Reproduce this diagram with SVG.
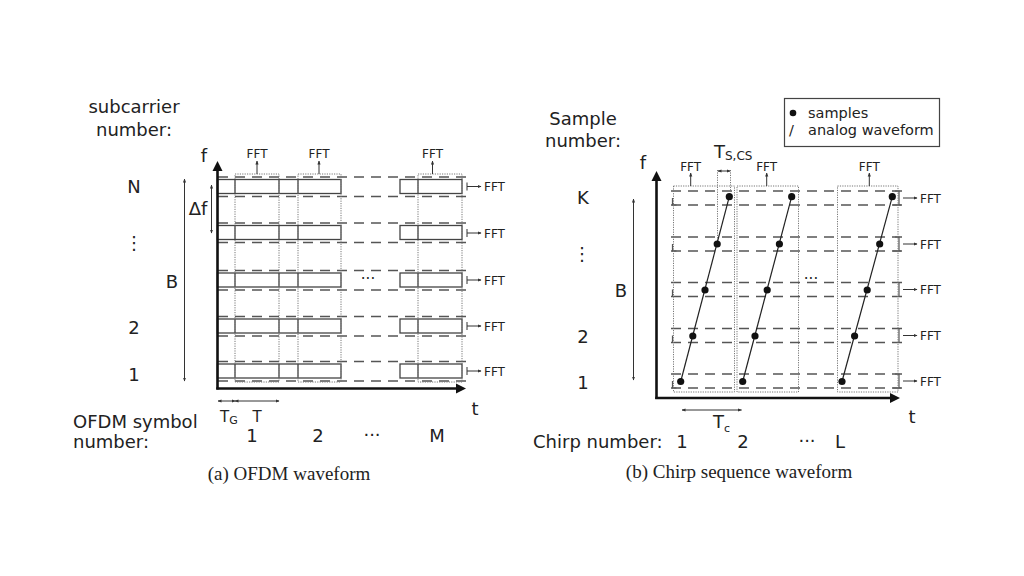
<svg xmlns="http://www.w3.org/2000/svg" width="1024" height="576" viewBox="0 0 1024 576">
<defs>
<style>
text{font-family:"DejaVu Sans",sans-serif;fill:#222}
.l{font-size:18px}
.m{font-size:15px}
.s{font-size:11px}
.fft{font-size:12px}
.leg{font-size:14.5px}
.cap{font-family:"Liberation Serif",serif;font-size:19px}
.axis{stroke:#111;stroke-width:2.6;fill:none}
.dash{stroke:#555;stroke-width:1.3;stroke-dasharray:10,7;fill:none}
.rect{stroke:#444;stroke-width:1.3;fill:none}
.dot{stroke:#777;stroke-width:1;stroke-dasharray:1.2,1.2;fill:none}
.thin{stroke:#333;stroke-width:1;fill:none}
.gr{stroke:#555;stroke-width:1.2;fill:none}
</style>
<marker id="ah" viewBox="0 0 8 8" refX="7" refY="4" markerWidth="5" markerHeight="5" orient="auto-start-reverse"><path d="M0,0.8 L8,4 L0,7.2 z" fill="#222"/></marker>
<marker id="as" viewBox="0 0 8 8" refX="7" refY="4" markerWidth="4" markerHeight="4" orient="auto-start-reverse"><path d="M0,0.8 L8,4 L0,7.2 z" fill="#333"/></marker>
</defs>
<rect width="1024" height="576" fill="#fff"/>

<!-- ===== (a) OFDM ===== -->
<g id="ofdm-labels">
<text class="l" x="134" y="113" text-anchor="middle">subcarrier</text>
<text class="l" x="134" y="136" text-anchor="middle">number:</text>
<text class="l" x="204" y="162" text-anchor="middle">f</text>
<text class="l" x="134" y="193" text-anchor="middle">N</text>
<text class="l" x="134" y="249" text-anchor="middle">⋮</text>
<text class="l" x="172" y="288" text-anchor="middle">B</text>
<text class="l" x="134" y="334" text-anchor="middle">2</text>
<text class="l" x="134" y="381" text-anchor="middle">1</text>
<text class="l" x="198" y="215" text-anchor="middle">Δf</text>
<text class="l" x="73" y="428">OFDM symbol</text>
<text class="l" x="73" y="448">number:</text>
<text class="l" x="475" y="415" text-anchor="middle">t</text>
<text class="m" x="220" y="422">T<tspan class="s" dy="2">G</tspan></text>
<text class="m" x="257" y="422" text-anchor="middle">T</text>
<text class="l" x="252" y="442" text-anchor="middle">1</text>
<text class="l" x="318" y="442" text-anchor="middle">2</text>
<text class="l" x="372" y="441" text-anchor="middle">···</text>
<text class="l" x="437" y="442" text-anchor="middle">M</text>
<text class="m" x="368" y="284" text-anchor="middle">···</text>
<text class="cap" x="289" y="480" text-anchor="middle">(a) OFDM waveform</text>
</g>

<g id="ofdm-grid">
<g class="dash">
<path d="M218,177H466M218,196.5H466M218,223H466M218,242.5H466M218,270.5H466M218,290H466M218,316.5H466M218,336H466M218,361.5H466M218,381H466"/>
</g>
<g class="rect">
<rect x="217.5" y="179.5" width="123.5" height="14"/>
<rect x="217.5" y="225.5" width="123.5" height="14"/>
<rect x="217.5" y="273" width="123.5" height="14"/>
<rect x="217.5" y="319" width="123.5" height="14"/>
<rect x="217.5" y="364" width="123.5" height="14"/>
<rect x="400" y="179.5" width="62" height="14"/>
<rect x="400" y="225.5" width="62" height="14"/>
<rect x="400" y="273" width="62" height="14"/>
<rect x="400" y="319" width="62" height="14"/>
<rect x="400" y="364" width="62" height="14"/>
<path d="M235,179.5v14M279,179.5v14M298,179.5v14M418,179.5v14M235,225.5v14M279,225.5v14M298,225.5v14M418,225.5v14M235,273v14M279,273v14M298,273v14M418,273v14M235,319v14M279,319v14M298,319v14M418,319v14M235,364v14M279,364v14M298,364v14M418,364v14"/>
</g>
<rect class="dot" x="235" y="174" width="44" height="208"/>
<rect class="dot" x="298" y="174" width="43" height="208"/>
<rect class="dot" x="418" y="174" width="44" height="208"/>
</g>

<g id="ofdm-axes">
<line class="axis" x1="217.5" y1="389.5" x2="217.5" y2="170"/>
<polygon points="217.5,161 212.5,171 222.5,171" fill="#111"/>
<line class="axis" x1="216.3" y1="388.5" x2="457" y2="388.5"/>
<polygon points="466,388.5 456,383.5 456,393.5" fill="#111"/>
</g>

<g id="ofdm-connectors">
<g class="thin">
<line x1="257" y1="174" x2="257" y2="161" marker-end="url(#as)"/>
<line x1="319" y1="174" x2="319" y2="161" marker-end="url(#as)"/>
<line x1="432.5" y1="174" x2="432.5" y2="161" marker-end="url(#as)"/>
<path d="M467,182.5v8M467,229v8M467,276v8M467,322v8M467,367v8"/>
<line x1="467" y1="186.5" x2="481" y2="186.5" marker-end="url(#as)"/>
<line x1="467" y1="233" x2="481" y2="233" marker-end="url(#as)"/>
<line x1="467" y1="280" x2="481" y2="280" marker-end="url(#as)"/>
<line x1="467" y1="326" x2="481" y2="326" marker-end="url(#as)"/>
<line x1="467" y1="371" x2="481" y2="371" marker-end="url(#as)"/>
<line x1="184.5" y1="179" x2="184.5" y2="381" marker-start="url(#as)" marker-end="url(#as)"/>
<line x1="211.5" y1="185" x2="211.5" y2="233" marker-start="url(#as)" marker-end="url(#as)"/>
<line x1="218" y1="401" x2="235" y2="401" marker-start="url(#as)" marker-end="url(#as)"/>
<line x1="235" y1="401" x2="279" y2="401" marker-start="url(#as)" marker-end="url(#as)"/>
</g>
</g>

<g id="ofdm-fft-labels">
<text class="fft" x="257" y="158" text-anchor="middle">FFT</text>
<text class="fft" x="319" y="158" text-anchor="middle">FFT</text>
<text class="fft" x="432.5" y="158" text-anchor="middle">FFT</text>
<text class="fft" x="484" y="191">FFT</text>
<text class="fft" x="484" y="237.5">FFT</text>
<text class="fft" x="484" y="284.5">FFT</text>
<text class="fft" x="484" y="330.5">FFT</text>
<text class="fft" x="484" y="375.5">FFT</text>
</g>

<!-- ===== (b) Chirp ===== -->
<g id="chirp-labels">
<text class="l" x="583" y="125" text-anchor="middle">Sample</text>
<text class="l" x="583" y="147" text-anchor="middle">number:</text>
<text class="l" x="643" y="169" text-anchor="middle">f</text>
<text class="l" x="583" y="204" text-anchor="middle">K</text>
<text class="l" x="582" y="260" text-anchor="middle">⋮</text>
<text class="l" x="621" y="297" text-anchor="middle">B</text>
<text class="l" x="583" y="343" text-anchor="middle">2</text>
<text class="l" x="583" y="389" text-anchor="middle">1</text>
<text class="l" x="533" y="448">Chirp number:</text>
<text class="l" x="682" y="448" text-anchor="middle">1</text>
<text class="l" x="743" y="448" text-anchor="middle">2</text>
<text class="l" x="807" y="447" text-anchor="middle">···</text>
<text class="l" x="840" y="448" text-anchor="middle">L</text>
<text class="l" x="912" y="423" text-anchor="middle">t</text>
<text class="l" x="713" y="428">T<tspan class="s" dy="4">c</tspan></text>
<text class="l" x="714" y="158">T<tspan class="fft" dy="2">S,CS</tspan></text>
<text class="m" x="811" y="284" text-anchor="middle">···</text>
<text class="cap" x="739" y="478" text-anchor="middle">(b) Chirp sequence waveform</text>
</g>

<g id="legend">
<rect x="784.5" y="98.5" width="155" height="48" fill="#fff" stroke="#444" stroke-width="1.2"/>
<circle cx="793" cy="113" r="3.3" fill="#111"/>
<text class="leg" x="808" y="118">samples</text>
<text class="leg" x="789" y="135">/</text>
<text class="leg" x="808" y="135">analog waveform</text>
</g>

<g id="chirp-grid">
<g class="dash">
<path d="M671,191H903M671,205H903M671,237H903M671,251H903M671,282.5H903M671,296.5H903M671,328.5H903M671,342.5H903M671,374H903M671,388H903"/>
</g>
<g class="gr">
<path d="M672.5,198v7h4M672.5,244v7h4M672.5,289.5v7h4M672.5,335.5v7h4M672.5,381v7h4"/>
<path d="M895,191h4v14M895,237h4v14M895,282.5h4v14M895,328.5h4v14M895,374h4v14"/>
<path d="M893,205h8M893,251h8M893,296.5h8M893,342.5h8M893,388h8"/>
</g>
<rect class="dot" x="673.5" y="186" width="61" height="206"/>
<rect class="dot" x="737" y="186" width="61.5" height="206"/>
<rect class="dot" x="837.5" y="186" width="60.5" height="206"/>
<path class="dot" d="M717.5,170V245M730.5,170V192"/>
</g>

<g id="chirp-axes">
<line class="axis" x1="656.5" y1="399" x2="656.5" y2="180"/>
<polygon points="656.5,171 651.5,181 661.5,181" fill="#111"/>
<line class="axis" x1="655.2" y1="398" x2="891" y2="398"/>
<polygon points="900,398 890,393 890,403" fill="#111"/>
</g>

<g id="chirps">
<g stroke="#222" stroke-width="1.2">
<line x1="680.7" y1="381.5" x2="729.3" y2="196.7"/>
<line x1="742.7" y1="381.5" x2="791.7" y2="196.7"/>
<line x1="842" y1="381.5" x2="892.3" y2="196.7"/>
</g>
<g fill="#111">
<circle cx="680.7" cy="381.5" r="3.6"/><circle cx="692.8" cy="336" r="3.6"/><circle cx="705" cy="290" r="3.6"/><circle cx="717.2" cy="244" r="3.6"/><circle cx="729.3" cy="196.7" r="3.6"/>
<circle cx="742.7" cy="381.5" r="3.6"/><circle cx="755" cy="336" r="3.6"/><circle cx="767.2" cy="290" r="3.6"/><circle cx="779.4" cy="244" r="3.6"/><circle cx="791.7" cy="196.7" r="3.6"/>
<circle cx="842" cy="381.5" r="3.6"/><circle cx="854.6" cy="336" r="3.6"/><circle cx="867.2" cy="290" r="3.6"/><circle cx="879.7" cy="244" r="3.6"/><circle cx="892.3" cy="196.7" r="3.6"/>
</g>
</g>

<g id="chirp-connectors">
<g class="thin">
<line x1="690.7" y1="186" x2="690.7" y2="173" marker-end="url(#as)"/>
<line x1="766.7" y1="186" x2="766.7" y2="173" marker-end="url(#as)"/>
<line x1="869.3" y1="186" x2="869.3" y2="173" marker-end="url(#as)"/>
<line x1="903" y1="198" x2="917" y2="198" marker-end="url(#as)"/>
<line x1="903" y1="244" x2="917" y2="244" marker-end="url(#as)"/>
<line x1="903" y1="289.5" x2="917" y2="289.5" marker-end="url(#as)"/>
<line x1="903" y1="335.5" x2="917" y2="335.5" marker-end="url(#as)"/>
<line x1="903" y1="381" x2="917" y2="381" marker-end="url(#as)"/>
<line x1="633.5" y1="199" x2="633.5" y2="380" marker-start="url(#as)" marker-end="url(#as)"/>
<line x1="718" y1="171" x2="730" y2="171" marker-start="url(#as)" marker-end="url(#as)"/>
<line x1="682" y1="410" x2="741.5" y2="410" marker-start="url(#as)" marker-end="url(#as)"/>
</g>
</g>

<g id="chirp-fft-labels">
<text class="fft" x="690.7" y="170.5" text-anchor="middle">FFT</text>
<text class="fft" x="766.7" y="170.5" text-anchor="middle">FFT</text>
<text class="fft" x="869.3" y="170.5" text-anchor="middle">FFT</text>
<text class="fft" x="920" y="202.5">FFT</text>
<text class="fft" x="920" y="248.5">FFT</text>
<text class="fft" x="920" y="294">FFT</text>
<text class="fft" x="920" y="340">FFT</text>
<text class="fft" x="920" y="385.5">FFT</text>
</g>
</svg>
